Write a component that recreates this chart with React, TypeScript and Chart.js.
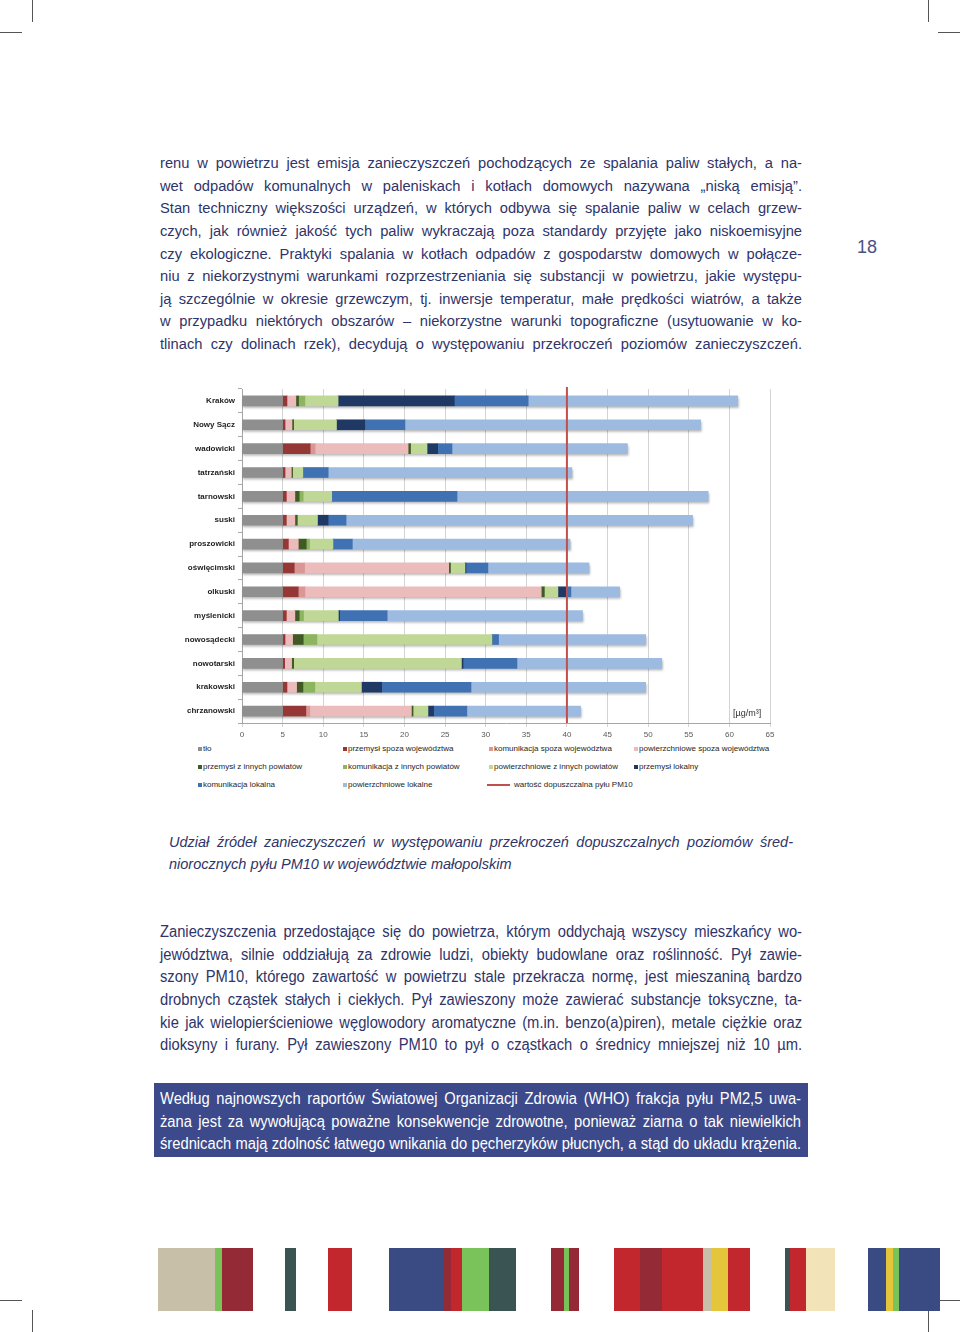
import React, { useEffect, useRef } from 'react';
import { Chart, registerables } from 'chart.js';
Chart.register(...registerables);

// ---------- DATA ----------
const categories = ['Kraków', 'Nowy Sącz', 'wadowicki', 'tatrzański', 'tarnowski', 'suski', 'proszowicki', 'oświęcimski', 'olkuski', 'myślenicki', 'nowosądecki', 'nowotarski', 'krakowski', 'chrzanowski'];

const tlo = [5, 5, 5, 5, 5, 5, 5, 5, 5, 5, 5, 5, 5, 5];
const przemyslSpoza = [0.53, 0.29, 3.39, 0.29, 0.45, 0.45, 0.7, 1.43, 1.92, 0.45, 0.29, 0.25, 0.53, 2.86];
const komunikacjaSpoza = [0, 0, 0.61, 0, 0, 0, 0, 1.27, 0.82, 0, 0, 0, 0, 0.49];
const powierzchnioweSpoza = [1.1, 0.86, 11.45, 0.78, 1.06, 1.06, 1.23, 17.75, 29.1, 1.06, 0.94, 0.86, 1.19, 12.5];
const przemyslInne = [0.33, 0.2, 0.29, 0.16, 0.53, 0.29, 0.98, 0.2, 0.37, 0.53, 1.31, 0.25, 0.78, 0.2];
const komunikacjaInne = [0.78, 0, 0, 0, 0.49, 0, 0.4, 0, 0, 0.53, 1.68, 0, 1.47, 0];
const powierzchnioweInne = [4.09, 5.28, 2.04, 1.27, 3.52, 2.49, 2.9, 1.8, 1.68, 4.29, 21.55, 20.65, 5.73, 1.84];
const przemyslLokalny = [14.3, 3.48, 1.31, 0, 0, 1.31, 0, 0.12, 1.1, 0.16, 0, 0.2, 2.49, 0.7];
const komunikacjaLokalna = [9.1, 4.95, 1.76, 3.11, 15.42, 2.21, 2.37, 2.7, 0.5, 5.85, 0.81, 6.64, 11.0, 4.09];
const powierzchnioweLokalne = [25.8, 36.4, 21.6, 30.0, 30.92, 42.66, 26.8, 12.45, 6.0, 24.05, 18.12, 17.83, 21.5, 14.0];

const seriesNames = ['tło', 'przemysł spoza województwa', 'komunikacja spoza województwa', 'powierzchniowe spoza województwa', 'przemysł z innych powiatów', 'komunikacja z innych powiatów', 'powierzchniowe z innych powiatów', 'przemysł lokalny', 'komunikacja lokalna', 'powierzchniowe lokalne'];
const seriesValues = [tlo, przemyslSpoza, komunikacjaSpoza, powierzchnioweSpoza, przemyslInne, komunikacjaInne, powierzchnioweInne, przemyslLokalny, komunikacjaLokalna, powierzchnioweLokalne];
const seriesColors = ['#8f8f8f', '#953735', '#d99694', '#ebbcbb', '#3f5a22', '#8db45e', '#bfd896', '#1f3864', '#3f71b3', '#9dbbe0'];

const limitLabel = 'wartość dopuszczalna pyłu PM10';
const LIMIT = 40;
const X_MIN = 0;
const X_MAX = 65;
const X_STEP = 5;
const unitLabel = '[µg/m³]';

// ---------- PAGE TEXT ----------
const para1 = [
  'renu w powietrzu jest emisja zanieczyszczeń pochodzących ze spalania paliw stałych, a na-',
  'wet odpadów komunalnych w paleniskach i kotłach domowych nazywana „niską emisją”.',
  'Stan techniczny większości urządzeń, w których odbywa się spalanie paliw w celach grzew-',
  'czych, jak również jakość tych paliw wykraczają poza standardy przyjęte jako niskoemisyjne',
  'czy ekologiczne. Praktyki spalania w kotłach odpadów z gospodarstw domowych w połącze-',
  'niu z niekorzystnymi warunkami rozprzestrzeniania się substancji w powietrzu, jakie występu-',
  'ją szczególnie w okresie grzewczym, tj. inwersje temperatur, małe prędkości wiatrów, a także',
  'w przypadku niektórych obszarów – niekorzystne warunki topograficzne (usytuowanie w ko-',
  'tlinach czy dolinach rzek), decydują o występowaniu przekroczeń poziomów zanieczyszczeń.',
];
const caption = [
  'Udział źródeł zanieczyszczeń w występowaniu przekroczeń dopuszczalnych poziomów śred-',
  'niorocznych pyłu PM10 w województwie małopolskim',
];
const para2 = [
  'Zanieczyszczenia przedostające się do powietrza, którym oddychają wszyscy mieszkańcy wo-',
  'jewództwa, silnie oddziałują za zdrowie ludzi, obiekty budowlane oraz roślinność. Pył zawie-',
  'szony PM10, którego zawartość w powietrzu stale przekracza normę, jest mieszaniną bardzo',
  'drobnych cząstek stałych i ciekłych. Pył zawieszony może zawierać substancje toksyczne, ta-',
  'kie jak wielopierścieniowe węglowodory aromatyczne (m.in. benzo(a)piren), metale ciężkie oraz',
  'dioksyny i furany. Pył zawieszony PM10 to pył o cząstkach o średnicy mniejszej niż 10 µm.',
];
const boxText = [
  'Według najnowszych raportów Światowej Organizacji Zdrowia (WHO) frakcja pyłu PM2,5 uwa-',
  'żana jest za wywołującą poważne konsekwencje zdrowotne, ponieważ ziarna o tak niewielkich',
  'średnicach mają zdolność łatwego wnikania do pęcherzyków płucnych, a stąd do układu krążenia.',
];

// decorative stripes at page bottom: [x0, x1, color]
const stripes: [number, number, string][] = [
  [158, 215, '#c8bfa9'], [215, 222, '#7ac25a'], [222, 253, '#932a35'],
  [285, 296, '#3a5454'],
  [328, 352, '#c1272d'],
  [389, 444, '#3a4a82'], [444, 451, '#932a35'], [451, 462, '#c1272d'], [462, 489, '#7ac25a'], [489, 516, '#3a5454'],
  [551, 564, '#932a35'], [564, 569, '#7ac25a'], [569, 579, '#932a35'],
  [614, 640, '#c1272d'], [640, 662, '#932a35'], [662, 703, '#c1272d'], [703, 712, '#c8bfa9'], [712, 728, '#e5c63a'], [728, 750, '#c1272d'],
  [785, 790, '#3a5454'], [790, 806, '#c1272d'], [806, 835, '#f3e3b8'],
  [868, 886, '#3a4a82'], [886, 893, '#e5c63a'], [893, 899, '#7ac25a'], [899, 940, '#3a4a82'],
];

const NAVY = '#2f3469';
const SANS = "'Liberation Sans', Arial, sans-serif";

let measureCtx: CanvasRenderingContext2D | null = null;
function measure(text: string, font: string) {
  if (!measureCtx) measureCtx = document.createElement('canvas').getContext('2d');
  measureCtx!.font = font;
  return measureCtx!.measureText(text).width;
}

function JustLine({ text, width, size, italic, scale = 1, justify = true, color, lh }: any) {
  const font = `${italic ? 'italic ' : ''}${size}px 'Liberation Sans'`;
  const natural = measure(text, font);
  const gaps = (text.match(/ /g) || []).length;
  const ws = justify && gaps ? (width / scale - natural) / gaps : 0;
  return (
    <div style={{ height: lh, lineHeight: lh + 'px', whiteSpace: 'nowrap' }}>
      <span style={{ display: 'inline-block', font, fontStyle: italic ? 'italic' : 'normal', lineHeight: lh + 'px', color, wordSpacing: ws + 'px', transform: `scaleX(${scale})`, transformOrigin: 'left center' }}>{text}</span>
    </div>
  );
}

function Block({ lines, left, top, width, lh, size, italic, scale, color, justifyLast = true }: any) {
  return (
    <div style={{ position: 'absolute', left, top, width }}>
      {lines.map((t: string, i: number) => (
        <JustLine key={i} text={t} width={width} size={size} italic={italic} scale={scale} color={color} lh={lh} justify={justifyLast || i < lines.length - 1} />
      ))}
    </div>
  );
}

const limitLinePlugin = {
  id: 'limitLine',
  afterDatasetsDraw(chart: any) {
    const { ctx, chartArea } = chart;
    const x = chart.scales.x.getPixelForValue(LIMIT);
    ctx.save();
    ctx.strokeStyle = '#c0504d';
    ctx.lineWidth = 2;
    ctx.beginPath();
    ctx.moveTo(x, chartArea.top - 2);
    ctx.lineTo(x, chartArea.bottom);
    ctx.stroke();
    ctx.restore();
  },
};

const shadowPlugin = {
  id: 'barShadow',
  beforeDatasetsDraw(chart: any) {
    const { ctx } = chart;
    const xs = chart.scales.x;
    const metas = chart.getSortedVisibleDatasetMetas();
    if (!metas.length) return;
    ctx.save();
    ctx.fillStyle = 'rgba(0,0,0,0.28)';
    (ctx as any).filter = 'blur(1.2px)';
    categories.forEach((_, i) => {
      let total = 0;
      seriesValues.forEach((s) => (total += s[i]));
      const bar = metas[0].data[i];
      const h = bar.height;
      const x0 = xs.getPixelForValue(0);
      const x1 = xs.getPixelForValue(total);
      ctx.fillRect(x0 + 1, bar.y - h / 2 + 2, x1 - x0, h);
    });
    ctx.restore();
  },
};

function ChartCanvas() {
  const ref = useRef<HTMLCanvasElement>(null);
  useEffect(() => {
    if (!ref.current) return;
    const chart = new Chart(ref.current, {
      type: 'bar',
      data: {
        labels: categories,
        datasets: seriesValues.map((vals, k) => ({
          label: seriesNames[k],
          data: vals,
          backgroundColor: seriesColors[k],
          borderWidth: 0,
          barThickness: 10,
        })),
      },
      options: {
        indexAxis: 'y',
        responsive: false,
        animation: false,
        devicePixelRatio: 1,
        layout: { padding: { top: 9, right: 10, left: 0, bottom: 0 } },
        plugins: { legend: { display: false }, tooltip: { enabled: false } },
        scales: {
          x: {
            stacked: true,
            min: X_MIN,
            max: X_MAX,
            ticks: { stepSize: X_STEP, color: '#595959', font: { family: SANS, size: 8 }, padding: 3 },
            grid: { color: '#d4d4d4', lineWidth: 1, tickLength: 4 },
            border: { color: '#a6a6a6' },
            afterFit: (s: any) => { s.height = 20; },
          },
          y: {
            stacked: true,
            ticks: { color: '#1e1e1e', font: { family: SANS, size: 8, weight: 'bold' }, padding: 3 },
            grid: { drawOnChartArea: false, tickLength: 4, color: '#a6a6a6' },
            border: { color: '#a6a6a6' },
            afterFit: (s: any) => { s.width = 72; },
          },
        },
      },
      plugins: [shadowPlugin, limitLinePlugin],
    } as any);
    return () => chart.destroy();
  }, []);
  return <canvas ref={ref} width={610} height={363} style={{ position: 'absolute', left: 170, top: 380, width: 610, height: 363 }} />;
}

const legendCols = [198, 343, 489, 634];
const legendRows = [749, 767, 785];

function Legend() {
  const items: any[] = seriesNames.map((n, k) => ({ name: n, color: seriesColors[k], kind: 'box' }));
  items.push({ name: limitLabel, color: '#c0504d', kind: 'line' });
  const txt = { position: 'absolute', font: `8px ${SANS}`, color: '#1e1e1e', lineHeight: '11px', whiteSpace: 'nowrap' } as any;
  return (
    <>
      {items.map((it, k) => {
        const col = k % 4;
        const row = Math.floor(k / 4);
        const x = legendCols[col];
        const y = legendRows[row];
        if (it.kind === 'line') {
          return (
            <div key={k}>
              <div style={{ position: 'absolute', left: x - 2, top: y - 1, width: 23, height: 2, background: it.color }} />
              <div style={{ ...txt, left: x + 25, top: y - 6 }}>{it.name}</div>
            </div>
          );
        }
        return (
          <div key={k}>
            <div style={{ position: 'absolute', left: x, top: y - 2, width: 4, height: 4, background: it.color }} />
            <div style={{ ...txt, left: x + 5, top: y - 6 }}>{it.name}</div>
          </div>
        );
      })}
    </>
  );
}

export default function App() {
  const mark = (l: number, t: number, w: number, h: number) => (
    <div style={{ position: 'absolute', left: l, top: t, width: w, height: h, background: '#555' }} />
  );
  return (
    <div style={{ position: 'absolute', left: 0, top: 0, width: 960, height: 1332, background: '#fff', overflow: 'hidden', fontFamily: SANS }}>
      {mark(32, 0, 1, 22)}{mark(0, 32, 22, 1)}
      {mark(928, 0, 1, 22)}{mark(938, 32, 22, 1)}
      {mark(0, 1300, 22, 1)}{mark(32, 1310, 1, 22)}
      {mark(938, 1300, 22, 1)}{mark(928, 1310, 1, 22)}

      <Block lines={para1} left={160} top={152} width={642} lh={22.625} size={14.7} color={NAVY} />
      <div style={{ position: 'absolute', left: 857, top: 236, fontSize: 18, color: '#4b5085', fontFamily: SANS, lineHeight: '22px' }}>18</div>

      <ChartCanvas />
      <div style={{ position: 'absolute', left: 733, top: 707, fontSize: 9, color: '#333', fontFamily: SANS, lineHeight: '12px', whiteSpace: 'nowrap' }}>{unitLabel}</div>
      <Legend />

      <Block lines={caption} left={169} top={831} width={624} lh={22} size={14.5} italic color={NAVY} justifyLast={false} />

      <Block lines={para2} left={160} top={921} width={642} lh={22.625} size={16} scale={0.92} color={NAVY} />

      <div style={{ position: 'absolute', left: 154, top: 1083, width: 654, height: 74, background: '#3c4a8b' }} />
      <Block lines={boxText} left={160} top={1088} width={641} lh={22.5} size={16} scale={0.92} color="#fff" />

      {stripes.map(([a, b, c], i) => (
        <div key={i} style={{ position: 'absolute', left: a, top: 1248, width: b - a, height: 63, background: c }} />
      ))}
    </div>
  );
}
